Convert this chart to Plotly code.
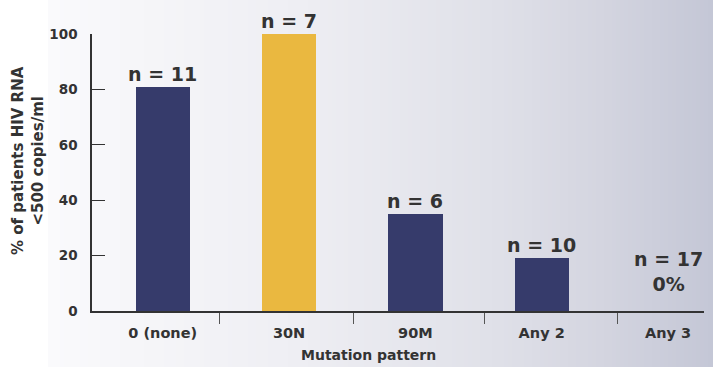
import plotly.graph_objects as go

categories = ["0 (none)", "30N", "90M", "Any 2", "Any 3"]
values = [81, 100, 35, 19, 0]
n_labels = ["n = 11", "n = 7", "n = 6", "n = 10", "n = 17<br>0%"]
bar_colors = ["#363B6B", "#EAB840", "#363B6B", "#363B6B", "#363B6B"]
y_ticks = [0, 20, 40, 60, 80, 100]
x_title = "Mutation pattern"
y_title = "% of patients HIV RNA<br><500 copies/ml"

W, H = 713, 367
L, R, T, B = 92, 9, 34, 56
pw = W - L - R
ph = H - T - B

xpos = list(range(len(categories)))
FONT = "DejaVu Sans"
TXT = "#333333"

fig = go.Figure()
fig.add_trace(go.Bar(
    x=xpos, y=values, width=0.43,
    marker=dict(color=bar_colors, line=dict(width=0)),
    showlegend=False, hoverinfo="skip",
))

annotations = []
for xi, v, lab in zip(xpos, values, n_labels):
    annotations.append(dict(
        x=xi, y=v, xref="x", yref="y", text="<b>" + lab + "</b>",
        showarrow=False, yanchor="bottom", yshift=(14 if v == 0 else 0),
        font=dict(family=FONT, size=19, color=TXT), align="center",
    ))

# axis titles as annotations (placed as in the reference)
annotations.append(dict(
    x=(368 - L) / pw, y=-(355 - (T + ph)) / ph, xref="paper", yref="paper",
    text="<b>%s</b>" % x_title, showarrow=False, xanchor="center", yanchor="middle",
    font=dict(family=FONT, size=14, color=TXT),
))
annotations.append(dict(
    x=(28 - L) / pw, y=(T + ph - 161) / ph, xref="paper", yref="paper",
    text="<b>%s</b>" % y_title, showarrow=False, xanchor="center", yanchor="middle",
    textangle=-90, align="center",
    font=dict(family=FONT, size=15, color=TXT),
))

# background gradient (white on left -> light blue-grey on right)
stops = [(0, (255, 255, 255)), (47, (255, 255, 255)), (48, (250, 250, 252)),
         (300, (238, 238, 243)), (500, (223, 224, 232)), (600, (212, 213, 224)),
         (713, (196, 199, 214))]

def col_at(px):
    for (a, ca), (b, cb) in zip(stops[:-1], stops[1:]):
        if a <= px <= b:
            t = 0 if b == a else (px - a) / (b - a)
            return "rgb(%d,%d,%d)" % tuple(round(ca[i] + (cb[i] - ca[i]) * t) for i in range(3))
    return "rgb(196,199,214)"

shapes = []
step = 4
for px in range(0, W, step):
    shapes.append(dict(
        type="rect", xref="paper", yref="paper",
        x0=(px - L) / pw, x1=(px + step + 0.5 - L) / pw,
        y0=-(B + 2) / ph, y1=(ph + T + 2) / ph,
        fillcolor=col_at(px + step / 2), line=dict(width=0), layer="below",
    ))

fig.update_layout(
    width=W, height=H,
    margin=dict(l=L, r=R, t=T, b=B, pad=0),
    paper_bgcolor="white", plot_bgcolor="rgba(0,0,0,0)",
    font=dict(family=FONT, color=TXT),
    shapes=shapes, annotations=annotations, bargap=0,
)
fig.update_xaxes(
    range=[-0.56, 4.285], tickvals=xpos,
    ticktext=["<b>%s</b>" % c for c in categories],
    ticks="", showgrid=False, zeroline=False,
    showline=True, linecolor="#333333", linewidth=2,
    tickfont=dict(family=FONT, size=14.5, color=TXT), ticklabelstandoff=8,
    minor=dict(tickmode="array", tickvals=[0.45, 1.51, 2.55, 3.6], ticks="outside",
               ticklen=11, tickcolor="#555555", tickwidth=1, showgrid=False),
)
fig.update_yaxes(
    range=[0, 100], tickvals=y_ticks,
    ticktext=["<b>%d</b>" % t for t in y_ticks],
    ticks="inside", ticklen=13, tickcolor="#333333", tickwidth=1,
    showgrid=False, zeroline=False,
    showline=True, linecolor="#333333", linewidth=1.5,
    tickfont=dict(family=FONT, size=13.5, color=TXT), ticklabelstandoff=10,
)

fig.write_html("out.html")
